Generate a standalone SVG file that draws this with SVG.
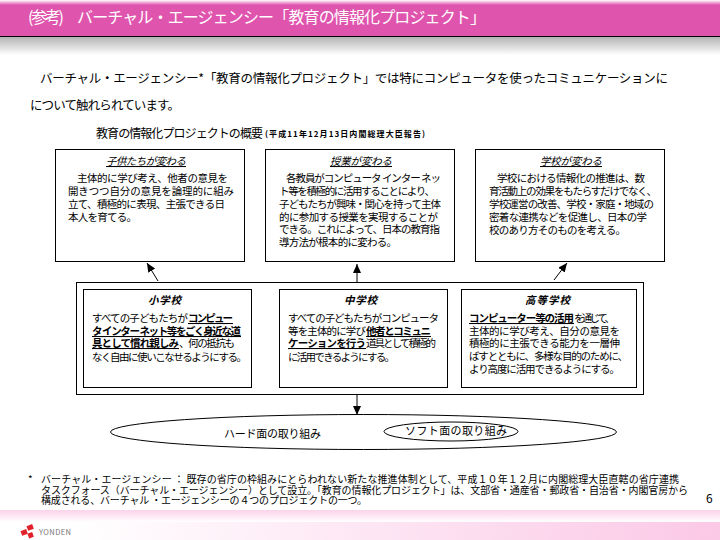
<svg xmlns="http://www.w3.org/2000/svg" width="720" height="540" viewBox="0 0 720 540">
<style>
text{font-family:"Noto Sans CJK JP","Liberation Sans",sans-serif;fill:#000;font-size:10.5px}
.box{fill:#fff;stroke:#000;stroke-width:1}
.h{font-style:italic;text-decoration:underline;font-size:10.5px}
.hb{font-style:italic;font-weight:700;font-size:10.5px}
.b{font-weight:700;text-decoration:underline}
.c{stroke:#000;stroke-width:1;fill:none;marker-end:url(#ah)}
.f{font-size:10px}
</style>
<defs>
<marker id="ah" markerUnits="userSpaceOnUse" markerWidth="10" markerHeight="10" refX="9" refY="4" orient="auto"><path d="M0 0L9 4L0 8Z" fill="#000"/></marker>
<linearGradient id="top" x1="0" y1="0" x2="0" y2="1"><stop offset="0" stop-color="#fff"/><stop offset="1" stop-color="#df55ae"/></linearGradient>
<linearGradient id="sh" x1="0" y1="0" x2="0" y2="1"><stop offset="0" stop-color="#b4b4b4"/><stop offset="1" stop-color="#fff"/></linearGradient>
<linearGradient id="band" x1="0" y1="0" x2="0" y2="1"><stop offset="0" stop-color="#fbd4ea"/><stop offset="0.5" stop-color="#fde8f4"/><stop offset="1" stop-color="#fff"/></linearGradient>
<linearGradient id="foot" x1="0" y1="0" x2="1" y2="0"><stop offset="0.1" stop-color="#fff"/><stop offset="1" stop-color="#fbc8e6"/></linearGradient>
</defs>
<rect width="720" height="540" fill="#fff"/>
<g id="header">
<rect width="720" height="5" fill="url(#top)"/>
<rect y="5" width="720" height="31" fill="#df55ae"/>
<rect y="36" width="720" height="1" fill="#000"/>
<rect y="37" width="720" height="18" fill="url(#sh)"/>
<text x="28" y="23" style="font-size:16px;fill:#fff" textLength="36">(参考)</text>
<text x="77" y="23" style="font-size:16px;fill:#fff" textLength="409">バーチャル・エージェンシー「教育の情報化プロジェクト」</text>
</g>
<g id="intro">
<text x="40" y="83" style="font-size:12.5px" textLength="628">バーチャル・エージェンシー*「教育の情報化プロジェクト」では特にコンピュータを使ったコミュニケーションに</text>
<text x="30" y="110" style="font-size:12.5px" textLength="150">について触れられています。</text>
<text x="96" y="138" style="font-size:12px" textLength="167">教育の情報化プロジェクトの概要</text>
<text x="265" y="137" style="font-size:8px;font-weight:700" textLength="160">(平成11年12月13日内閣総理大臣報告)</text>
</g>
<g id="connectors">
<path class="c" d="M158 281L147 263"/>
<path class="c" d="M357 282L357 264"/>
<path class="c" d="M554 280L567 263"/>
<path class="c" d="M357 394L357 415"/>
</g>
<g id="node-kodomo">
<rect class="box" x="55.500" y="149.500" width="189" height="112"/>
<text class="h" x="106" y="165" textLength="80">子供たちが変わる</text>
<text x="77" y="182" textLength="151">主体的に学び考え、他者の意見を</text>
<text x="68" y="195" textLength="166">開きつつ自分の意見を論理的に組み</text>
<text x="68" y="208" textLength="157">立て、積極的に表現、主張できる日</text>
<text x="68" y="221" textLength="69">本人を育てる。</text>
</g>
<g id="node-jugyo">
<rect class="box" x="265.500" y="149.500" width="189" height="112"/>
<text class="h" x="330" y="165" textLength="62">授業が変わる</text>
<text x="286" y="182" textLength="155">各教員がコンピュータ インター ネッ</text>
<text x="279" y="195" textLength="156">ト等を積極的に活用することにより、</text>
<text x="279" y="208" textLength="162">子どもたちが興味・関心を持って主体</text>
<text x="279" y="221" textLength="159">的に参加する授業を実現することが</text>
<text x="279" y="233" textLength="161">できる。これによって、日本の教育指</text>
<text x="279" y="246" textLength="118">導方法が根本的に変わる。</text>
</g>
<g id="node-gakko">
<rect class="box" x="475.500" y="149.500" width="189" height="112"/>
<text class="h" x="540" y="165" textLength="62">学校が変わる</text>
<text x="497" y="182" textLength="148">学校における情報化の推進は、数</text>
<text x="489" y="195" textLength="168">育活動上の効果をもたらすだけでなく、</text>
<text x="489" y="208" textLength="165">学校運営の改善、学校・家庭・地域の</text>
<text x="489" y="221" textLength="158">密着な連携などを促進し、日本の学</text>
<text x="489" y="234" textLength="137">校のあり方そのものを考える。</text>
</g>
<g id="node-schools">
<rect class="box" x="76.500" y="282.500" width="567" height="112"/>
</g>
<g id="node-sho">
<rect class="box" x="83.500" y="289.500" width="168" height="98"/>
<text class="hb" x="148" y="304" textLength="33">小学校</text>
<text x="92" y="322" textLength="96">すべての子どもたちが</text>
<text class="b" x="188" y="322" textLength="45">コンピュー</text>
<text class="b" x="92" y="335" textLength="149">タ インター ネット等をごく身近な道</text>
<text class="b" x="92" y="347" textLength="87">具として慣れ親しみ</text>
<text x="179" y="347" textLength="56">、何の抵抗も</text>
<text x="92" y="361" textLength="155">なく自由に使いこなせるようにする。</text>
</g>
<g id="node-chu">
<rect class="box" x="279.500" y="289.500" width="168" height="98"/>
<text class="hb" x="344" y="304" textLength="33">中学校</text>
<text x="288" y="322" textLength="151">すべての子どもたちがコンピュータ</text>
<text x="288" y="335" textLength="78">等を主体的に学び</text>
<text class="b" x="366" y="335" textLength="65">他者とコミュニ</text>
<text class="b" x="288" y="347" textLength="78">ケーションを行う</text>
<text x="366" y="347" textLength="70">道具として積極的</text>
<text x="288" y="361" textLength="107">に活用できるようにする。</text>
</g>
<g id="node-ko">
<rect class="box" x="461.500" y="289.500" width="175" height="98"/>
<text class="hb" x="525" y="304" textLength="45">高等学校</text>
<text class="b" x="469" y="322" textLength="105">コンピューター等の活用</text>
<text x="574" y="322" textLength="41">を通じて、</text>
<text x="469" y="335" textLength="151">主体的に学び考え、自分の意見を</text>
<text x="469" y="347" textLength="151">積極的に主張できる能力を一層伸</text>
<text x="469" y="360" textLength="159">ばすとともに、多様な目的のために、</text>
<text x="469" y="373" textLength="151">より高度に活用できるようにする。</text>
</g>
<g id="node-hard">
<ellipse class="box" cx="363.500" cy="432" rx="253" ry="17.500"/>
<text x="224" y="438" style="font-size:11px" textLength="97">ハード面の取り組み</text>
</g>
<g id="node-soft">
<ellipse class="box" cx="451" cy="431.500" rx="67" ry="9.500"/>
<text x="405" y="435" style="font-size:11px" textLength="102">ソフト面の取り組み</text>
</g>
<g id="footnote">
<text class="f" x="28" y="483">*</text>
<text class="f" x="41" y="483" textLength="638">バーチャル・エージェンシー ： 既存の省庁の枠組みにとらわれない新たな推進体制として、平成１０年１２月に内閣総理大臣直轄の省庁連携</text>
<text class="f" x="41" y="494" textLength="647">タスクフォース（バーチャル・エージェンシー）として設立。「教育の情報化プロジェクト」は、文部省・通産省・郵政省・自治省・内閣官房から</text>
<text class="f" x="41" y="504" textLength="326">構成される、バーチャル ・エージェンシーの４つのプロジェクトの一つ。</text>
<text x="706" y="503" style="font-size:12px">6</text>
</g>
<g id="footer">
<rect y="510" width="720" height="12" fill="url(#band)"/>
<rect y="522" width="720" height="18" fill="url(#foot)"/>
<g fill="#e0202a">
<rect x="27" y="525" width="6" height="5" transform="rotate(-20 30 527)"/>
<rect x="21" y="530" width="6" height="5" transform="rotate(-20 24 532)"/>
<rect x="28" y="533" width="5" height="5" transform="rotate(-20 30 535)"/>
</g>
<text x="39" y="535" style="font-size:7.500px;fill:#777" textLength="32">YONDEN</text>
</g>
</svg>
